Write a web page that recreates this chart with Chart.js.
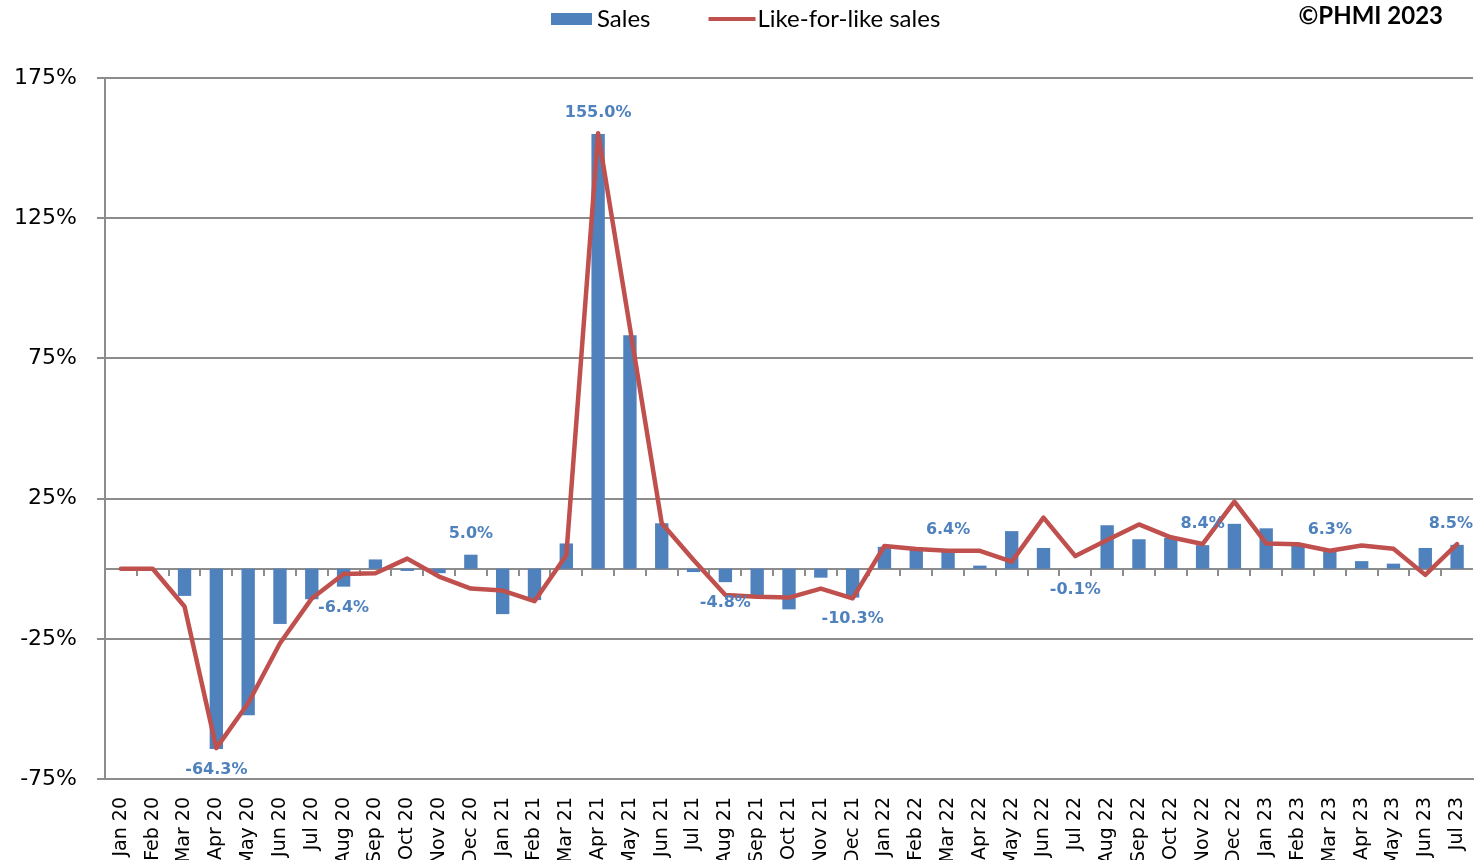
<!DOCTYPE html>
<html>
<head>
<meta charset="utf-8">
<title>Sales and like-for-like sales growth</title>
<script src="https://cdn.jsdelivr.net/npm/chart.js@4/dist/chart.umd.min.js"></script>
<style>
  html, body { margin: 0; padding: 0; background: #ffffff; }
  #wrap { width: 1474px; height: 860px; }
</style>
</head>
<body>
<div id="wrap"><canvas id="chart" width="1474" height="860"></canvas></div>
<script>
// Monthly year-on-year growth, %
const months = [
  'Jan 20','Feb 20','Mar 20','Apr 20','May 20','Jun 20','Jul 20','Aug 20','Sep 20','Oct 20','Nov 20','Dec 20',
  'Jan 21','Feb 21','Mar 21','Apr 21','May 21','Jun 21','Jul 21','Aug 21','Sep 21','Oct 21','Nov 21','Dec 21',
  'Jan 22','Feb 22','Mar 22','Apr 22','May 22','Jun 22','Jul 22','Aug 22','Sep 22','Oct 22','Nov 22','Dec 22',
  'Jan 23','Feb 23','Mar 23','Apr 23','May 23','Jun 23','Jul 23'
];

const salesGrowth = [
  0, 0, -9.7, -64.3, -52.3, -19.7, -10.9, -6.4, 3.3, -0.8, -1.6, 5.0,
  -16.2, -11.2, 9.0, 155.0, 83.3, 16.2, -1.2, -4.8, -10.0, -14.5, -3.2, -10.3,
  7.8, 6.7, 6.4, 1.1, 13.4, 7.4, -0.1, 15.5, 10.5, 11.0, 8.4, 16.0,
  14.4, 8.6, 6.3, 2.7, 1.8, 7.4, 8.5
];

const likeForLikeGrowth = [
  0, 0, -13.5, -64.0, -48.0, -26.6, -10.6, -1.9, -1.6, 3.6, -2.8, -7.1,
  -7.8, -11.6, 4.8, 155.3, 86.0, 16.2, 3.1, -9.4, -10.0, -10.3, -7.1, -10.6,
  8.1, 7.0, 6.4, 6.4, 2.5, 18.2, 4.5, 10.2, 15.8, 11.2, 8.8, 23.9,
  9.0, 8.7, 6.4, 8.3, 7.1, -2.2, 8.8
];

// Months whose sales growth is written above / below the bar
const labelledMonths = ['Apr 20','Aug 20','Dec 20','Apr 21','Aug 21','Dec 21','Mar 22','Jul 22','Nov 22','Mar 23','Jul 23'];

const seriesNames = ['Sales', 'Like-for-like sales'];
const copyrightText = '\u00A9PHMI 2023';

const BLUE = '#4F81BD';
const RED = '#C0504D';
const GRID = '#8c8c8c';

// Category axis drawn through zero, with tick marks between months
const zeroAxis = {
  id: 'zeroAxis',
  beforeDatasetsDraw(chart) {
    const { ctx, chartArea, scales } = chart;
    const y0 = Math.round(scales.y.getPixelForValue(0));
    const x = scales.x;
    ctx.save();
    ctx.strokeStyle = GRID;
    ctx.lineWidth = 2;
    ctx.beginPath();
    ctx.moveTo(chartArea.left, y0);
    ctx.lineTo(chartArea.right, y0);
    for (let i = 1; i < months.length; i++) {
      const xb = Math.round((x.getPixelForValue(i - 1) + x.getPixelForValue(i)) / 2);
      ctx.moveTo(xb, y0);
      ctx.lineTo(xb, y0 + 7);
    }
    ctx.stroke();
    ctx.restore();
  }
};

// Value labels on selected sales bars
const barValueLabels = {
  id: 'barValueLabels',
  afterDatasetsDraw(chart) {
    const { ctx, chartArea } = chart;
    const meta = chart.getDatasetMeta(0);
    ctx.save();
    ctx.font = 'bold 16px "DejaVu Sans"';
    ctx.fillStyle = BLUE;
    ctx.textAlign = 'center';
    ctx.textBaseline = 'middle';
    labelledMonths.forEach(m => {
      const i = months.indexOf(m);
      if (i < 0) return;
      const v = salesGrowth[i];
      const bar = meta.data[i];
      const text = v.toFixed(1) + '%';
      const w = ctx.measureText(text).width;
      let x = bar.x;
      x = Math.min(x, chartArea.right - w / 2);
      const y = v >= 0 ? bar.y - 21 : bar.y + 21;
      ctx.fillText(text, x, y);
    });
    ctx.restore();
  }
};

// Legend row and copyright line
const header = {
  id: 'header',
  afterDraw(chart) {
    const { ctx } = chart;
    const ds = chart.data.datasets;
    ctx.save();
    ctx.textBaseline = 'middle';
    ctx.textAlign = 'left';
    ctx.font = '24px Lato';
    const yc = 19;
    let x = 551;
    // bar swatch
    ctx.fillStyle = ds[0].backgroundColor;
    ctx.fillRect(x, yc - 6, 41, 12);
    x += 46;
    ctx.fillStyle = '#000000';
    ctx.fillText(ds[0].label, x, yc);
    x += ctx.measureText(ds[0].label).width + 58;
    // line swatch
    ctx.strokeStyle = ds[1].borderColor;
    ctx.lineWidth = 4;
    ctx.beginPath();
    ctx.moveTo(x, yc);
    ctx.lineTo(x + 47, yc);
    ctx.stroke();
    x += 49;
    ctx.fillText(ds[1].label, x, yc);
    // copyright
    ctx.font = 'bold 24px Lato';
    ctx.textAlign = 'right';
    ctx.fillText(copyrightText, 1443, 16);
    ctx.restore();
  }
};

function dropScalePadding(scale) {
  scale.paddingLeft = 0;
  scale.paddingRight = 0;
  scale.paddingTop = 0;
  scale.paddingBottom = 0;
}

new Chart(document.getElementById('chart'), {
  type: 'bar',
  data: {
    labels: months,
    datasets: [
      {
        label: seriesNames[0],
        data: salesGrowth,
        backgroundColor: BLUE,
        borderWidth: 0,
        barPercentage: 0.42,
        categoryPercentage: 1.0,
        order: 2
      },
      {
        type: 'line',
        label: seriesNames[1],
        data: likeForLikeGrowth,
        borderColor: RED,
        backgroundColor: RED,
        borderWidth: 4.5,
        pointRadius: 0,
        pointHoverRadius: 0,
        tension: 0,
        fill: false,
        borderJoinStyle: 'round',
        borderCapStyle: 'round',
        order: 1
      }
    ]
  },
  options: {
    responsive: false,
    animation: false,
    devicePixelRatio: 1,
    layout: { padding: { top: 78, right: 1, left: 0, bottom: 0 } },
    plugins: {
      legend: { display: false },
      tooltip: { enabled: false }
    },
    scales: {
      x: {
        offset: true,
        grid: { display: false, drawTicks: false },
        border: { display: true, color: GRID, width: 2 },
        ticks: {
          autoSkip: false,
          minRotation: 90,
          maxRotation: 90,
          padding: 18,
          color: '#000000',
          font: { family: '"DejaVu Sans"', size: 19 }
        },
        afterFit(scale) { scale.height = 81; dropScalePadding(scale); }
      },
      y: {
        min: -75,
        max: 175,
        grid: { color: GRID, lineWidth: 2, drawTicks: true, tickLength: 8 },
        border: { display: true, color: GRID, width: 2 },
        ticks: {
          stepSize: 50,
          padding: 20,
          color: '#000000',
          font: { family: '"DejaVu Sans"', size: 22 },
          callback: v => v + '%'
        },
        afterFit(scale) { scale.width = 105; dropScalePadding(scale); }
      }
    }
  },
  plugins: [zeroAxis, barValueLabels, header]
});
</script>
</body>
</html>
